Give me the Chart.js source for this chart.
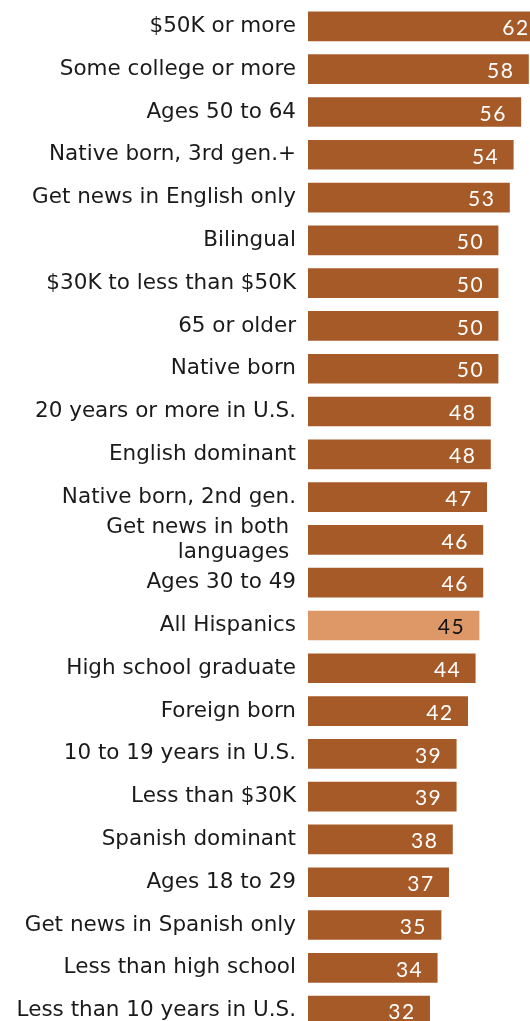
<!DOCTYPE html>
<html>
<head>
<meta charset="utf-8">
<script src="https://cdn.jsdelivr.net/npm/chart.js@4"></script>
<style>
  html, body { margin: 0; padding: 0; background: #fff; overflow: hidden; }
  #wrap { position: relative; width: 530px; height: 1032px; }
</style>
</head>
<body>
<div id="wrap"><canvas id="groupChart"></canvas></div>
<script>
// Categories, top to bottom
const groups = [
    '$50K or more',
    'Some college or more',
    'Ages 50 to 64',
    'Native born, 3rd gen.+',
    'Get news in English only',
    'Bilingual',
    '$30K to less than $50K',
    '65 or older',
    'Native born',
    '20 years or more in U.S.',
    'English dominant',
    'Native born, 2nd gen.',
    ['Get news in both ', 'languages '],
    'Ages 30 to 49',
    'All Hispanics',
    'High school graduate',
    'Foreign born',
    '10 to 19 years in U.S.',
    'Less than $30K',
    'Spanish dominant',
    'Ages 18 to 29',
    'Get news in Spanish only',
    'Less than high school',
    'Less than 10 years in U.S.'
];

const shares = [62, 58, 56, 54, 53, 50, 50, 50, 50, 48, 48, 47, 46, 46, 45, 44, 42, 39, 39, 38, 37, 35, 34, 32];

const highlightGroup = 'All Hispanics';

const barColors = groups.map(g => g === highlightGroup ? '#de9767' : '#a65a28');
const valueColors = groups.map(g => g === highlightGroup ? '#111111' : '#ffffff');

// Writes each value inside the right end of its bar
const valueLabels = {
    id: 'valueLabels',
    afterDatasetsDraw(chart) {
        const ctx = chart.ctx;
        const meta = chart.getDatasetMeta(0);
        ctx.save();
        ctx.font = '21px Lato, "DejaVu Sans", sans-serif';
        ctx.letterSpacing = '1.5px';
        ctx.textAlign = 'right';
        ctx.textBaseline = 'middle';
        meta.data.forEach((bar, i) => {
            ctx.fillStyle = valueColors[i];
            ctx.fillText(String(shares[i]), bar.x - 14, bar.y + 2);
        });
        ctx.restore();
    }
};

const groupConfig = {
    type: 'bar',
    data: {
        labels: groups,
        datasets: [{
            data: shares,
            backgroundColor: barColors,
            borderWidth: 0,
            barThickness: 29
        }]
    },
    options: {
        indexAxis: 'y',
        responsive: true,
        maintainAspectRatio: false,
        animation: false,
        layout: { padding: { top: 5, right: 0, bottom: 0, left: 0 } },
        plugins: {
            legend: { display: false },
            tooltip: { enabled: false }
        },
        scales: {
            x: {
                display: false,
                min: 0,
                max: 58.4
            },
            y: {
                grid: { display: false, drawTicks: false },
                border: { display: false },
                ticks: {
                    autoSkip: false,
                    color: '#1a1a1a',
                    padding: 12,
                    font: { family: '"DejaVu Sans", Verdana, sans-serif', size: 21.5, lineHeight: 1.17 }
                },
                afterFit(axis) {
                    axis.width = 308;
                    axis.paddingTop = 0;
                    axis.paddingBottom = 0;
                }
            }
        }
    },
    plugins: [valueLabels]
};

const groupChart = new Chart(document.getElementById('groupChart'), groupConfig);
</script>
</body>
</html>
